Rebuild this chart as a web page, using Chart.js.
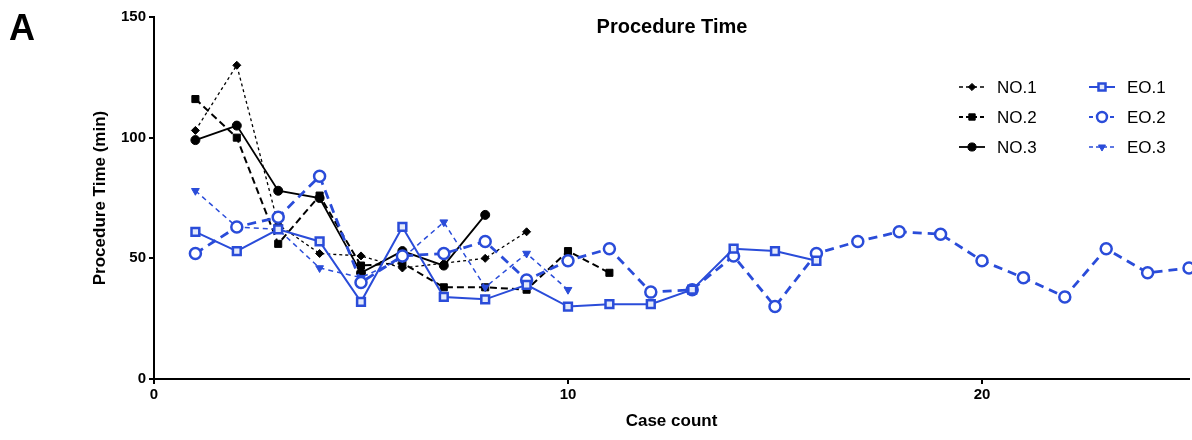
<!DOCTYPE html>
<html>
<head>
<meta charset="utf-8">
<script src="https://cdn.jsdelivr.net/npm/chart.js@4.4.1/dist/chart.umd.min.js"></script>
<style>
  html, body { margin: 0; padding: 0; background: #fff; }
</style>
</head>
<body>
<canvas id="procChart" width="1192" height="440"></canvas>
<script>
const caseCount = [1, 2, 3, 4, 5, 6, 7, 8, 9, 10, 11, 12, 13, 14, 15, 16, 17, 18, 19, 20, 21, 22, 23, 24, 25];
const no1 = [103, 130, 64, 52, 51, 46, 48, 50, 61];
const no2 = [116, 100, 56, 76, 47, 48, 38, 38, 37, 53, 44];
const no3 = [99, 105, 78, 75, 44, 53, 47, 68];
const eo1 = [61, 53, 62, 57, 32, 63, 34, 33, 39, 30, 31, 31, 37, 54, 53, 49];
const eo2 = [52, 63, 67, 84, 40, 51, 52, 57, 41, 49, 54, 36, 37, 51, 30, 52, 57, 61, 60, 49, 42, 34, 54, 44, 46];
const eo3 = [78, 63, 62, 46, 42, 50, 65, 38, 52, 37];
const xTicks = [0, 10, 20];
const yTicks = [0, 50, 100, 150];

const BLUE = '#2a4cd9';
const FONT = "'Liberation Sans', Arial, Helvetica, sans-serif";

function pts(values) {
    return values.map((v, i) => ({x: caseCount[i], y: v}));
}

const seriesStyle = [
    {label: 'EO.1', data: eo1, color: BLUE, fill: '#e4eafb', dash: [], width: 2, style: 'rect', radius: 5.5, rot: 0, bw: 2.5},
    {label: 'EO.2', data: eo2, color: BLUE, fill: '#ffffff', dash: [9, 6], width: 2.8, style: 'circle', radius: 5.5, rot: 0, bw: 2.5},
    {label: 'EO.3', data: eo3, color: BLUE, fill: BLUE, dash: [5, 4], width: 1.5, style: 'triangle', radius: 4.5, rot: 180, bw: 1},
    {label: 'NO.1', data: no1, color: '#000', fill: '#000', dash: [3, 3], width: 1.3, style: 'rectRot', radius: 4, rot: 0, bw: 1},
    {label: 'NO.2', data: no2, color: '#000', fill: '#000', dash: [7, 4], width: 2, style: 'rect', radius: 5, rot: 0, bw: 1},
    {label: 'NO.3', data: no3, color: '#000', fill: '#000', dash: [], width: 1.8, style: 'circle', radius: 4.5, rot: 0, bw: 1}
];

const datasets = seriesStyle.map(s => ({
    label: s.label,
    data: pts(s.data),
    borderColor: s.color,
    backgroundColor: s.fill,
    borderDash: s.dash,
    borderWidth: s.width,
    pointStyle: s.style,
    pointRadius: s.radius,
    pointRotation: s.rot,
    pointBorderColor: s.color,
    pointBackgroundColor: s.fill,
    pointBorderWidth: s.bw,
    tension: 0,
    clip: false
}));

// title, panel letter and a two-column legend drawn by hand
const decorations = {
    id: 'decorations',
    afterDraw(chart) {
        const ctx = chart.ctx;
        ctx.save();
        ctx.fillStyle = '#000';
        ctx.textBaseline = 'middle';
        ctx.textAlign = 'left';
        ctx.font = 'bold 36px ' + FONT;
        ctx.fillText('A', 9, 30);
        ctx.textAlign = 'center';
        ctx.font = 'bold 20px ' + FONT;
        ctx.fillText('Procedure Time', 672, 27);

        const order = ['NO.1', 'NO.2', 'NO.3', 'EO.1', 'EO.2', 'EO.3'];
        order.forEach((name, i) => {
            const s = seriesStyle.find(d => d.label === name);
            const col = i < 3 ? 0 : 1;
            const row = i % 3;
            const x0 = col === 0 ? 959 : 1089;
            const y = 87 + row * 30;
            ctx.save();
            ctx.strokeStyle = s.color;
            ctx.lineWidth = Math.min(s.width, 2);
            ctx.setLineDash(s.dash.length ? [4, 3] : []);
            ctx.beginPath();
            ctx.moveTo(x0, y);
            ctx.lineTo(x0 + 26, y);
            ctx.stroke();
            ctx.setLineDash([]);
            ctx.fillStyle = s.fill;
            ctx.strokeStyle = s.color;
            ctx.lineWidth = s.bw;
            Chart.helpers.drawPoint(ctx, {
                pointStyle: s.style,
                radius: s.radius * 0.9,
                rotation: s.rot,
                borderWidth: s.bw
            }, x0 + 13, y);
            ctx.restore();
            ctx.fillStyle = '#000';
            ctx.textAlign = 'left';
            ctx.font = '17px ' + FONT;
            ctx.fillText(name, x0 + 38, y + 1);
        });
        ctx.restore();
    }
};

new Chart(document.getElementById('procChart'), {
    type: 'line',
    data: {datasets: datasets},
    options: {
        responsive: false,
        animation: false,
        layout: {autoPadding: false, padding: {left: 84, top: 17, right: 3, bottom: 8}},
        plugins: {
            legend: {display: false},
            title: {display: false},
            tooltip: {enabled: false}
        },
        scales: {
            x: {
                type: 'linear',
                min: 0,
                max: 25,
                afterBuildTicks(scale) {
                    scale.ticks = xTicks.map(v => ({value: v}));
                },
                afterFit(scale) { scale.height = 53; },
                ticks: {
                    color: '#000',
                    padding: 2,
                    font: {family: FONT, size: 15, weight: 'bold'}
                },
                grid: {drawOnChartArea: false, tickLength: 5, color: '#000', lineWidth: 2},
                border: {color: '#000', width: 2},
                title: {
                    display: true,
                    text: 'Case count',
                    color: '#000',
                    padding: {top: 4, bottom: 0},
                    font: {family: FONT, size: 17, weight: 'bold'}
                }
            },
            y: {
                min: 0,
                max: 150,
                afterBuildTicks(scale) {
                    scale.ticks = yTicks.map(v => ({value: v}));
                },
                afterFit(scale) { scale.width = 70; },
                ticks: {
                    color: '#000',
                    padding: 3,
                    font: {family: FONT, size: 15, weight: 'bold'}
                },
                grid: {drawOnChartArea: false, tickLength: 5, color: '#000', lineWidth: 2},
                border: {color: '#000', width: 2},
                title: {
                    display: true,
                    text: 'Procedure Time (min)',
                    color: '#000',
                    padding: {top: 6, bottom: 0},
                    font: {family: FONT, size: 17, weight: 'bold'}
                }
            }
        }
    },
    plugins: [decorations]
});
</script>
</body>
</html>
